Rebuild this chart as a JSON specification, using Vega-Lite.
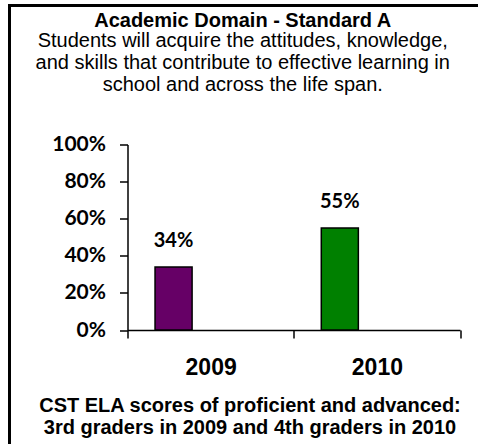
{
  "$schema": "https://vega.github.io/schema/vega-lite/v6.json",
  "width": 468.5,
  "height": 438.5,
  "autosize": {"type": "none"},
  "padding": {"left": 9.5, "top": 5.5, "right": 0, "bottom": 0},
  "background": "white",
  "config": {"view": {"stroke": "black", "strokeWidth": 3, "fill": "white", "strokeDash": [468.5, 907, 438.5], "strokeCap": "square"}},
  "title": {
    "text": "Academic Domain - Standard A",
    "subtitle": ["Students will acquire the attitudes, knowledge,", "and skills that contribute to effective learning in", "school and across the life span."],
    "anchor": "middle",
    "frame": "group",
    "offset": -89,
    "dx": -1,
    "font": "Liberation Sans",
    "fontSize": 20,
    "fontWeight": "bold",
    "color": "black",
    "lineHeight": 20,
    "subtitleFont": "Liberation Sans",
    "subtitleFontSize": 20,
    "subtitleFontWeight": "normal",
    "subtitleColor": "black",
    "subtitleLineHeight": 22,
    "subtitlePadding": 0
  },
  "data": {
    "values": [
      {"year": "2009", "series": "a", "value": 0.34},
      {"year": "2010", "series": "a", "value": 0.55}
    ]
  },
  "layer": [
    {
      "mark": {"type": "bar", "stroke": "black", "strokeWidth": 1.5},
      "encoding": {
        "x": {
          "field": "year", "type": "nominal",
          "scale": {"range": [118, 450.5], "paddingInner": 0, "paddingOuter": 0},
          "axis": {
            "orient": "bottom", "offset": -114,
            "domainColor": "black", "domainWidth": 1.5,
            "tickBand": "extent", "tickSize": 8, "tickWidth": 1.5, "tickColor": "black",
            "labelAngle": 0, "labelFont": "Liberation Sans", "labelFontSize": 23, "labelFontWeight": "bold", "labelColor": "black", "labelPadding": 18,
            "grid": false,
            "title": ["CST ELA scores of proficient and advanced:", "3rd graders in 2009 and 4th graders in 2010"],
            "titleFont": "Liberation Sans", "titleFontSize": 20, "titleFontWeight": "bold", "titleColor": "black",
            "titleLineHeight": 22, "titleX": 240, "titleY": 81, "titleBaseline": "alphabetic", "titleAlign": "center"
          }
        },
        "xOffset": {"field": "series", "type": "nominal", "scale": {"domain": ["a", "b", "c"], "paddingInner": 0, "paddingOuter": 0.743}},
        "y": {
          "field": "value", "type": "quantitative",
          "scale": {"domain": [0, 1], "range": [324.5, 139]},
          "axis": {
            "orient": "left", "offset": -118,
            "values": [0, 0.2, 0.4, 0.6, 0.8, 1], "format": ".0%",
            "domainColor": "black", "domainWidth": 1.5,
            "tickSize": 8, "tickWidth": 1.5, "tickColor": "black",
            "labelFont": "Lato", "labelFontSize": 21, "labelFontWeight": "bold", "labelColor": "black", "labelPadding": 14,
            "grid": false, "title": null
          }
        },
        "color": {"field": "year", "type": "nominal", "scale": {"domain": ["2009", "2010"], "range": ["#660066", "#008000"]}, "legend": null}
      }
    },
    {
      "mark": {"type": "text", "dy": -26, "baseline": "middle", "font": "Lato", "fontSize": 20, "fontWeight": "bold", "color": "black"},
      "encoding": {
        "x": {"field": "year", "type": "nominal"},
        "xOffset": {"field": "series", "type": "nominal"},
        "y": {"field": "value", "type": "quantitative"},
        "text": {"field": "value", "type": "quantitative", "format": ".0%"}
      }
    }
  ]
}
